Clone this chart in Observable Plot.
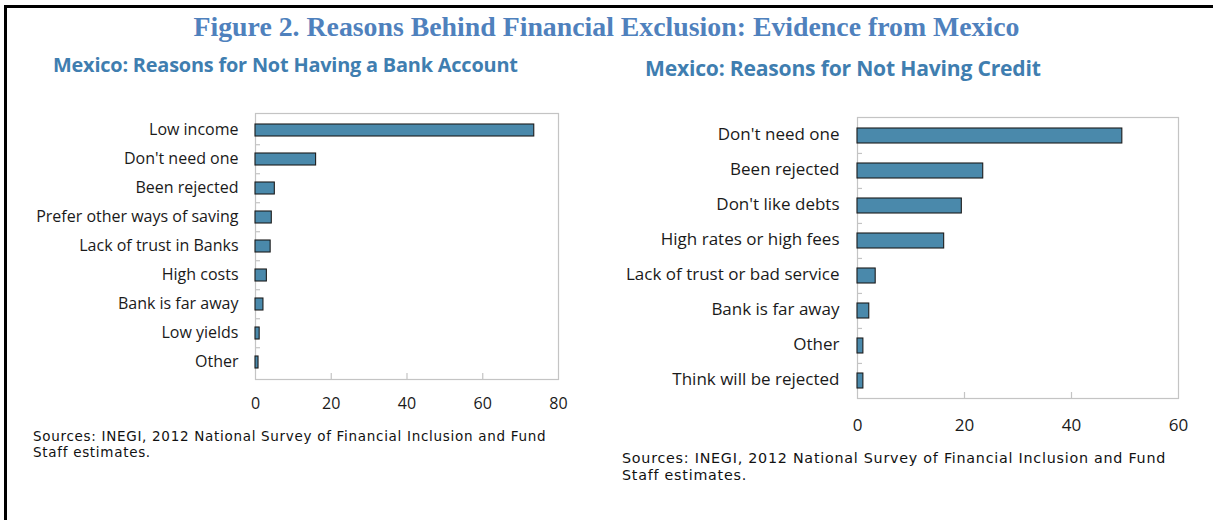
<!DOCTYPE html>
<html><head><meta charset="utf-8">
<script src="https://cdn.jsdelivr.net/npm/d3@7"></script>
<script src="https://cdn.jsdelivr.net/npm/@observablehq/plot@0.6"></script>
<style>
html,body{margin:0;background:#fff;overflow:hidden;}
#wrap{position:relative;width:1213px;height:520px;overflow:hidden;font-family:"Open Sans",sans-serif;background:#fff;}
.hline{position:absolute;left:4px;top:5px;width:1209px;height:3px;background:#000;}
.vline{position:absolute;left:4px;top:5px;width:3px;height:515px;background:#000;}
.title{position:absolute;left:0;width:1213px;top:11px;text-align:center;font-family:"Liberation Serif",serif;font-weight:bold;font-size:27.8px;color:#4f81bd;white-space:nowrap;}
.sub{position:absolute;font-weight:bold;color:#3f7eb0;white-space:nowrap;letter-spacing:-0.2px;}
.src{position:absolute;color:#111;white-space:nowrap;font-family:"DejaVu Sans",sans-serif;}
.chart{position:absolute;}
</style></head>
<body>
<div id="wrap">
  <div class="hline"></div>
  <div class="vline"></div>
  <div class="title">Figure 2. Reasons Behind Financial Exclusion: Evidence from Mexico</div>
  <div class="sub" style="left:53px;top:51px;font-size:19.9px;">Mexico: Reasons for Not Having a Bank Account</div>
  <div class="sub" style="left:645px;top:53px;font-size:21.1px;">Mexico: Reasons for Not Having Credit</div>
  <div class="chart" id="left" style="left:0;top:100px;"></div>
  <div class="chart" id="right" style="left:600px;top:100px;"></div>
  <div class="src" style="left:33px;top:429px;font-size:13.5px;line-height:15.5px;letter-spacing:0.7px;">Sources: INEGI, 2012 National Survey of Financial Inclusion and Fund<br>Staff estimates.</div>
  <div class="src" style="left:622px;top:450px;font-size:14.3px;line-height:17px;letter-spacing:0.75px;">Sources: INEGI, 2012 National Survey of Financial Inclusion and Fund<br>Staff estimates.</div>
</div>
<script>
const accountReasons = ["Low income","Don't need one","Been rejected","Prefer other ways of saving","Lack of trust in Banks","High costs","Bank is far away","Low yields","Other"];
const accountShares = [73.6,16.0,5.1,4.3,4.0,3.0,2.1,1.1,0.8];
const accountTicks = [0,20,40,60,80];

const creditReasons = ["Don't need one","Been rejected","Don't like debts","High rates or high fees","Lack of trust or bad service","Bank is far away","Other","Think will be rejected"];
const creditShares = [49.5,23.5,19.5,16.2,3.4,2.2,1.1,1.1];
const creditTicks = [0,20,40,60];

function makeChart(reasons, shares, ticks, o) {
  const data = reasons.map((r, i) => ({reason: r, share: shares[i]}));
  const plotH = o.height - o.mt - o.mb;
  const plotW = o.width - o.ml - o.mr;
  const step = plotH / reasons.length;
  return Plot.plot({
    width: o.width, height: o.height,
    marginLeft: o.ml, marginRight: o.mr, marginTop: o.mt, marginBottom: o.mb,
    style: {fontFamily: "'Open Sans', sans-serif", fontSize: o.fs + "px", color: "#1a1a1a", background: "transparent"},
    x: {domain: [ticks[0], ticks[ticks.length - 1]]},
    y: {domain: reasons, paddingInner: 0.58, paddingOuter: 0.29},
    marks: [
      Plot.frame({stroke: "#c4c4c4", strokeWidth: 1.2}),
      Plot.ruleY(reasons.slice(1), {dy: -step / 2, stroke: "#c4c4c4", strokeWidth: 1.2, insetRight: plotW - 5}),
      Plot.ruleX(ticks.slice(1, -1), {stroke: "#c4c4c4", strokeWidth: 1.2, insetTop: plotH - 6}),
      Plot.barX(data, {x: "share", y: "reason", fill: "#4a89ab", stroke: "#1c1c1c", strokeWidth: 1.1}),
      Plot.axisX({ticks, tickSize: 0, tickPadding: o.xpad, tickFormat: d => String(d), label: null}),
      Plot.axisY({tickSize: 0, tickPadding: o.ypad, label: null, dy: -1})
    ]
  });
}

document.getElementById("left").append(makeChart(accountReasons, accountShares, accountTicks,
  {width: 600, height: 320, ml: 255, mr: 42, mt: 13, mb: 41, fs: 16, xpad: 18, ypad: 17}));
document.getElementById("right").append(makeChart(creditReasons, creditShares, creditTicks,
  {width: 613, height: 340, ml: 257, mr: 35, mt: 17, mb: 42, fs: 17, xpad: 20, ypad: 18}));
</script>
</body></html>
